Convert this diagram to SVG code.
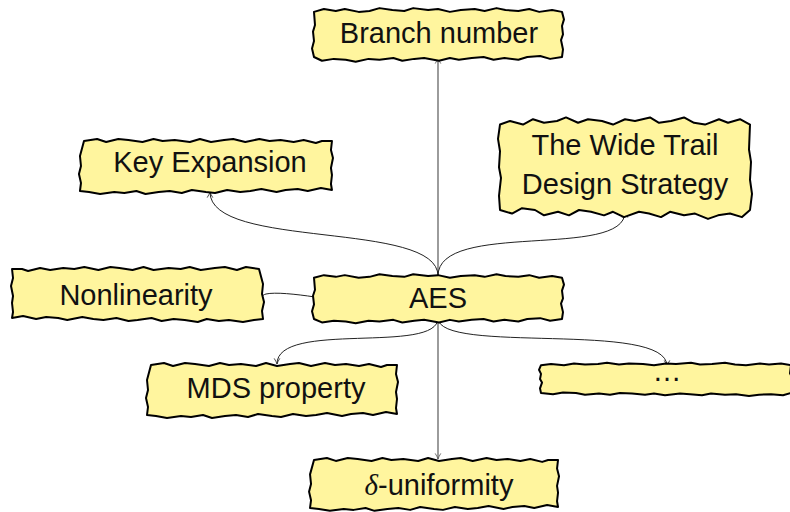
<svg xmlns="http://www.w3.org/2000/svg" xmlns:xlink="http://www.w3.org/1999/xlink" width="790" height="512" viewBox="0 0 790 512">
  <style>
    .paper { fill: #fff59e; stroke: #000; stroke-width: 2; stroke-linejoin: round; }
    .label { font-family: "Liberation Sans", Arial, sans-serif; font-size: 29px; fill: #111; text-anchor: middle; }
    .link { fill: none; stroke: #222; stroke-width: 1; }
    .stem { fill: none; stroke: #666; stroke-width: 1.3; }
  </style>
  <defs>
    <!-- torn-paper rectangle, 250 x 50 at the origin -->
    <path id="tornA" class="paper" vector-effect="non-scaling-stroke"
      d="M0,2 l10,-3 l12,2 l9,-2 l14,3 l11,-1 l10,-3 l13,2 l12,1 l9,-3 l15,2 l10,-1 l12,3 l11,-2 l14,-1 l10,2 l12,-3 l9,2 l13,1 l11,-2 l10,3 l13,-2 l10,2
         l2,8 l-2,7 l1,9 l-2,6 l2,10 l-1,8
         l-12,2 l-10,-3 l-13,1 l-9,3 l-14,-2 l-11,2 l-10,-3 l-12,1 l-13,2 l-9,-2 l-11,3 l-15,-3 l-10,1 l-12,2 l-9,-3 l-14,2 l-11,-1 l-13,3 l-10,-2 l-12,-1 l-12,2 l-8,-4
         l-2,-9 l2,-8 l-1,-10 l2,-7 z"/>
    <path id="tornB" class="paper" vector-effect="non-scaling-stroke"
      d="M0,1 l13,-2 l9,3 l12,-3 l10,1 l14,2 l11,-3 l9,2 l12,-1 l15,2 l10,-3 l11,3 l13,-2 l9,-1 l12,3 l14,-3 l10,2 l11,-1 l13,2 l10,-2 l12,3 l6,-2 l10,0
         l-1,9 l2,8 l-2,10 l1,7 l-1,9 l1,6
         l-11,-2 l-13,3 l-10,-2 l-12,1 l-9,2 l-15,-3 l-11,2 l-10,1 l-13,-2 l-12,3 l-9,-1 l-14,-2 l-10,3 l-12,-2 l-11,1 l-13,2 l-9,-3 l-12,2 l-10,-1 l-14,2 l-11,-2 l-9,-1
         l1,-8 l-2,-9 l2,-8 l-1,-10 z"/>
    <marker id="tip" viewBox="0 0 10 10" refX="9" refY="5" markerWidth="8" markerHeight="8" orient="auto" markerUnits="userSpaceOnUse">
      <path d="M2,1.5 Q6,4 9,5 Q6,6 2,8.5" fill="none" stroke="#222" stroke-width="1"/>
    </marker>
    <marker id="tipGray" viewBox="0 0 10 10" refX="9" refY="5" markerWidth="8" markerHeight="8" orient="auto" markerUnits="userSpaceOnUse">
      <path d="M2,1.5 Q6,4 9,5 Q6,6 2,8.5" fill="none" stroke="#555" stroke-width="1"/>
    </marker>
  </defs>

  <!-- connectors -->
  <g id="connectors">
    <path class="stem" d="M438,276 L438,58" marker-end="url(#tipGray)"/>
    <path class="stem" d="M438,318 L438,459" marker-end="url(#tipGray)"/>
    <path class="link" d="M438,276 C438,220 210,250 210,192" marker-end="url(#tip)"/>
    <path class="link" d="M438,276 C438,220 625,260 625,212" marker-end="url(#tip)"/>
    <path class="link" d="M315,297 C295,294 275,292 266,294 C262,295 261,298 260,299"/>
    <path class="link" d="M438,318 C438,355 277,320 277,364" marker-end="url(#tip)"/>
    <path class="link" d="M438,318 C438,355 667,320 667,366" marker-end="url(#tip)"/>
  </g>

  <g id="branch-number">
    <use xlink:href="#tornA" transform="translate(314,10) scale(0.992,0.94)"/>
    <text class="label" x="439" y="43">Branch number</text>
  </g>

  <g id="key-expansion">
    <use xlink:href="#tornB" transform="translate(84,140) scale(1.008,1)"/>
    <text class="label" x="210" y="172">Key Expansion</text>
  </g>

  <g id="wide-trail">
    <use xlink:href="#tornA" transform="translate(750,121) scale(-1,1.78)"/>
    <text class="label" x="625" y="155">The Wide Trail</text>
    <text class="label" x="625" y="194">Design Strategy</text>
  </g>

  <g id="nonlinearity">
    <use xlink:href="#tornB" transform="translate(259,268) scale(-1.004,1)"/>
    <text class="label" x="136" y="305">Nonlinearity</text>
  </g>

  <g id="aes">
    <use xlink:href="#tornA" transform="translate(314,276) scale(0.992,0.86)"/>
    <text class="label" x="438" y="308">AES</text>
  </g>

  <g id="mds-property">
    <use xlink:href="#tornB" transform="translate(151,364)"/>
    <text class="label" x="276" y="398">MDS property</text>
  </g>

  <g id="more">
    <use xlink:href="#tornA" transform="translate(791,364) scale(-1,0.58)"/>
    <text class="label" x="667" y="381">…</text>
  </g>

  <g id="delta-uniformity">
    <use xlink:href="#tornB" transform="translate(314,459) scale(0.992,0.96)"/>
    <text class="label" x="439" y="495"><tspan font-family="Liberation Serif, serif" font-style="italic">δ</tspan>-uniformity</text>
  </g>
</svg>
